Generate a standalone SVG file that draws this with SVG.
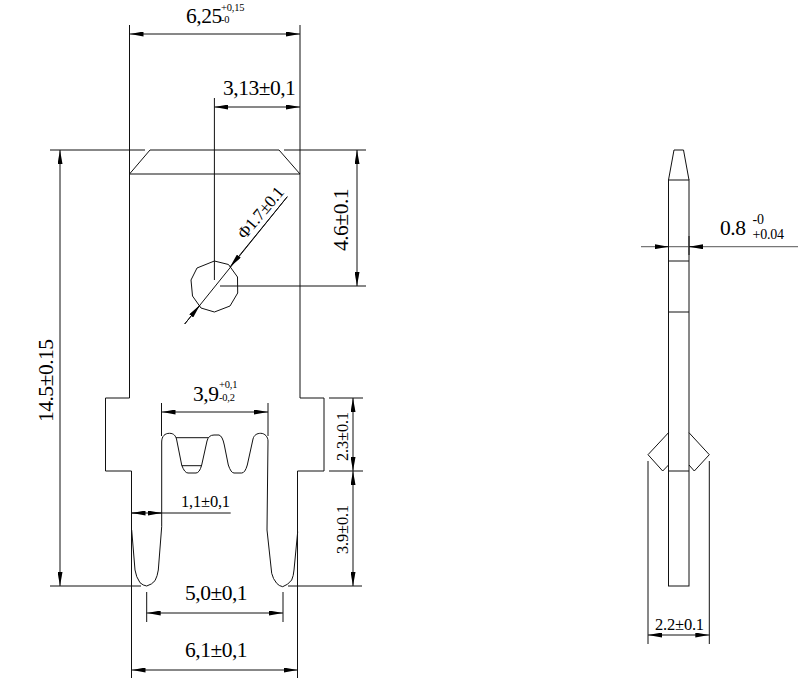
<svg xmlns="http://www.w3.org/2000/svg" width="803" height="679" viewBox="0 0 803 679">
<defs>
<marker id="arr" viewBox="0 0 14 5" refX="14" refY="2.5" markerWidth="14" markerHeight="5" markerUnits="userSpaceOnUse" orient="auto-start-reverse"><path d="M0 0L14 2.5L0 5Z" fill="#000"/></marker>
</defs>
<style>
.l{fill:none;stroke:#111;stroke-width:1}
.g{fill:none;stroke:#777;stroke-width:1.2}
.d{fill:none;stroke:#111;stroke-width:1;marker-start:url(#arr);marker-end:url(#arr)}
.e{fill:none;stroke:#111;stroke-width:1;marker-end:url(#arr)}
text{font-family:"Liberation Serif","Times New Roman",serif;fill:#000}
.t{font-size:21.500px;letter-spacing:-.5px}.m{font-size:17px;letter-spacing:-.3px}.s{font-size:16.500px;letter-spacing:-.2px}.x{font-size:10.500px;letter-spacing:-.2px}.y{font-size:14px;letter-spacing:-.2px}
</style>
<rect width="803" height="679" fill="#fff"/>
<g id="terminal-front">
<path class="l" d="M129.500 168V174L150 150H279L300 174V168"/>
<path class="l" d="M129.500 174H300"/>
<path class="l" d="M129.500 174V398H105.500V471H131.500V678"/>
<path class="l" d="M297.500 678V471H324V398H300V174"/>
<path class="l" d="M131.700 530L135 570Q136 577 140 582.700Q143 585.500 146.700 586Q152 584.500 155 580.700Q157.500 576 158.300 570L161.700 526.700V442C161.700 436 165 433.300 169.500 433.300C174 433.300 175.500 436 176.500 439L181.700 465Q184.500 473 188 473H196Q199.500 473 201.700 465L207 441Q208.500 435 214 435H219Q222.500 436 224.300 445L228.300 465Q231 473 234 473H241.700Q245 473 247.300 465L253 439C254 435 257 433.300 260.700 433.300C265 433.300 268 437 268 441L267 530L271.700 573.300Q273 579 276.700 583.300Q279 586 282.700 586.700Q288 585 291.700 580Q293.500 576 294 570L297.700 531.700"/>
<path class="l" d="M176 437.700H208.300M181.700 465.700H201.700"/>
<polygon class="l" points="214.400,261 228.500,264.500 237.500,277 237.700,293 230,306 214.400,312 201,308 192.500,296 191,280 197,268"/>
</g>
<g id="terminal-side">
<path class="l" d="M668.500 180L674 150H683.500L689 180"/>
<rect class="l" x="668.500" y="180" width="20.500" height="406"/>
<path class="l" d="M668.500 261H689M668.500 312H689M668.500 471H689"/>
<path class="l" d="M668.500 432.700L648 454.700L662.700 471L668.500 465M689 432.700L709.300 454.700L694.300 471L689 465"/>
</g>
<g id="connectors">
<path class="l" d="M129.500 25V168M300 25V168"/>
<path class="l" d="M50 150H145M284 150H366M214.400 98V280M220 286H366"/>
<path class="l" d="M161.500 403V436M268 403V436"/>
<path class="l" d="M329 398H363M329 471H363M288 586H362M50 586H141"/>
<path class="l" d="M146.700 592V622M283 592V622"/>
<path class="d" d="M129.500 34H300"/>
<path class="d" d="M214.400 107H300"/>
<path class="d" d="M357 150V286"/>
<path class="d" d="M60 150V586"/>
<path class="d" d="M161.500 412H268"/>
<path class="d" d="M353 398V471"/>
<path class="d" d="M353 471V586"/>
<path class="d" d="M146.700 613H283"/>
<path class="d" d="M131.500 670H297.500"/>
<path class="l" d="M184.700 324L287.300 196.700"/>
<path class="e" d="M287.300 196.700L230 267"/>
<path class="e" d="M184.700 324L200 305"/>
<path class="l" d="M131.500 513H230.700"/>
<path class="e" d="M143 513H131.500"/>
<path class="e" d="M150 513H161.500"/>
<path class="g" d="M641 246.700H798"/>
<path class="l" d="M668.500 236V255M689 236V255"/>
<path class="e" d="M655 246.700H668.500"/>
<path class="e" d="M703 246.700H689"/>
<path class="l" d="M648 461V644M709.300 461V644"/>
<path class="d" d="M648 635H709.300"/>
</g>
<g id="labels">
<text class="t" x="186" y="22.500">6,25</text><text class="x" x="221" y="11">+0,15</text><text class="x" x="221" y="23">-0</text>
<text class="t" x="223" y="95">3,13±0,1</text>
<text class="t" transform="translate(348,251) rotate(-90)">4.6±0.1</text>
<text class="t" transform="translate(53,422) rotate(-90)">14.5±0.15</text>
<text class="m" transform="translate(245,240) rotate(-50)">Φ1.7±0.1</text>
<text class="t" x="193" y="400.700">3,9</text><text class="x" x="219" y="388">+0,1</text><text class="x" x="219" y="401">-0,2</text>
<text class="s" x="181" y="507">1,1±0,1</text>
<text class="t" x="185" y="600">5,0±0,1</text>
<text class="t" x="185" y="657">6,1±0,1</text>
<text class="s" transform="translate(348,461) rotate(-90)">2.3±0.1</text>
<text class="s" transform="translate(348,554) rotate(-90)">3.9±0.1</text>
<text class="t" x="720" y="235">0.8</text><text class="y" x="752.500" y="224">-0</text><text class="y" x="752.500" y="238.500">+0.04</text>
<text class="s" x="655" y="630">2.2±0.1</text>
</g>
</svg>
